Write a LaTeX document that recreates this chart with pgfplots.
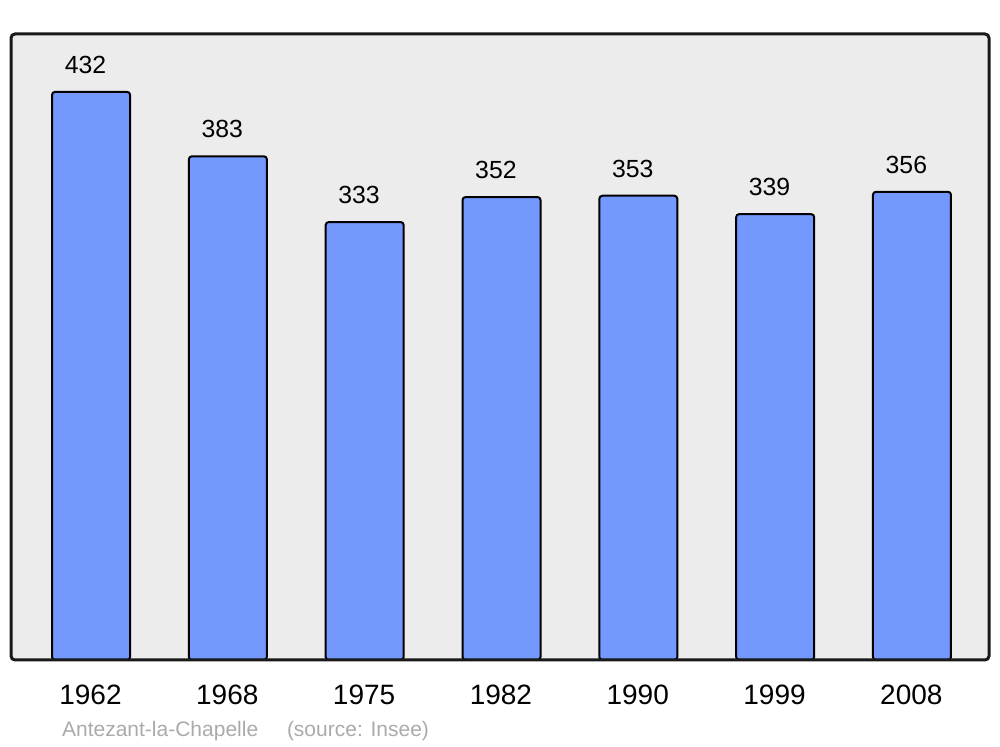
\documentclass[border=0pt]{standalone}
\usepackage{fontspec}
\setmainfont{Liberation Sans}
\usepackage{pgfplots}
\pgfplotsset{compat=1.18}
\definecolor{BarBlue}{HTML}{7399FF}
\definecolor{PlotBg}{HTML}{ECECEC}
\definecolor{Foot}{HTML}{AAAAAA}
\begin{document}
\begin{tikzpicture}
\useasboundingbox (0,0) rectangle (500pt,373.5pt);
\begin{axis}[
  name=ax,
  at={(5.5pt,43.5pt)}, anchor=south west,
  scale only axis,
  width=489pt, height=313pt,
  xmin=-0.585, xmax=6.563,
  ymin=0, ymax=476,
  axis line style={draw=none},
  axis background/.style={fill=PlotBg,rounded corners=2pt},
  ytick=\empty,
  xtick={0,...,6},
  xticklabels={1962,1968,1975,1982,1990,1999,2008},
  major tick length=0pt,
  xticklabel style={font=\fontsize{14}{16}\selectfont,anchor=base,inner sep=0pt,yshift=-22.5pt,xshift=-0.3pt},
  ybar, bar width=39pt, bar shift=0pt,
  nodes near coords,
  every node near coord/.append style={font=\fontsize{12.4}{14}\selectfont,anchor=base,inner sep=0pt,yshift=9.3pt,xshift=-2.8pt},
  /pgf/number format/assume math mode=true,
]
  \addplot[fill=BarBlue,draw=black,line width=1pt,rounded corners=1.5pt] coordinates {
    (0,432) (1,383) (2,333) (3,352) (4,353) (5,339) (6,356)
  };
\end{axis}
\draw[line width=1.5pt,draw=black!90,rounded corners=2pt] (ax.south west) rectangle (ax.north east);
\node[anchor=base west,inner sep=0pt,text=Foot,font=\fontsize{10.5}{12}\selectfont] at (30.85pt,5pt) {Antezant-la-Chapelle};
\node[anchor=base west,inner sep=0pt,text=Foot,font=\fontsize{10.5}{12}\selectfont] at (143.3pt,5pt) {(source: Insee)};
\end{tikzpicture}
\end{document}
